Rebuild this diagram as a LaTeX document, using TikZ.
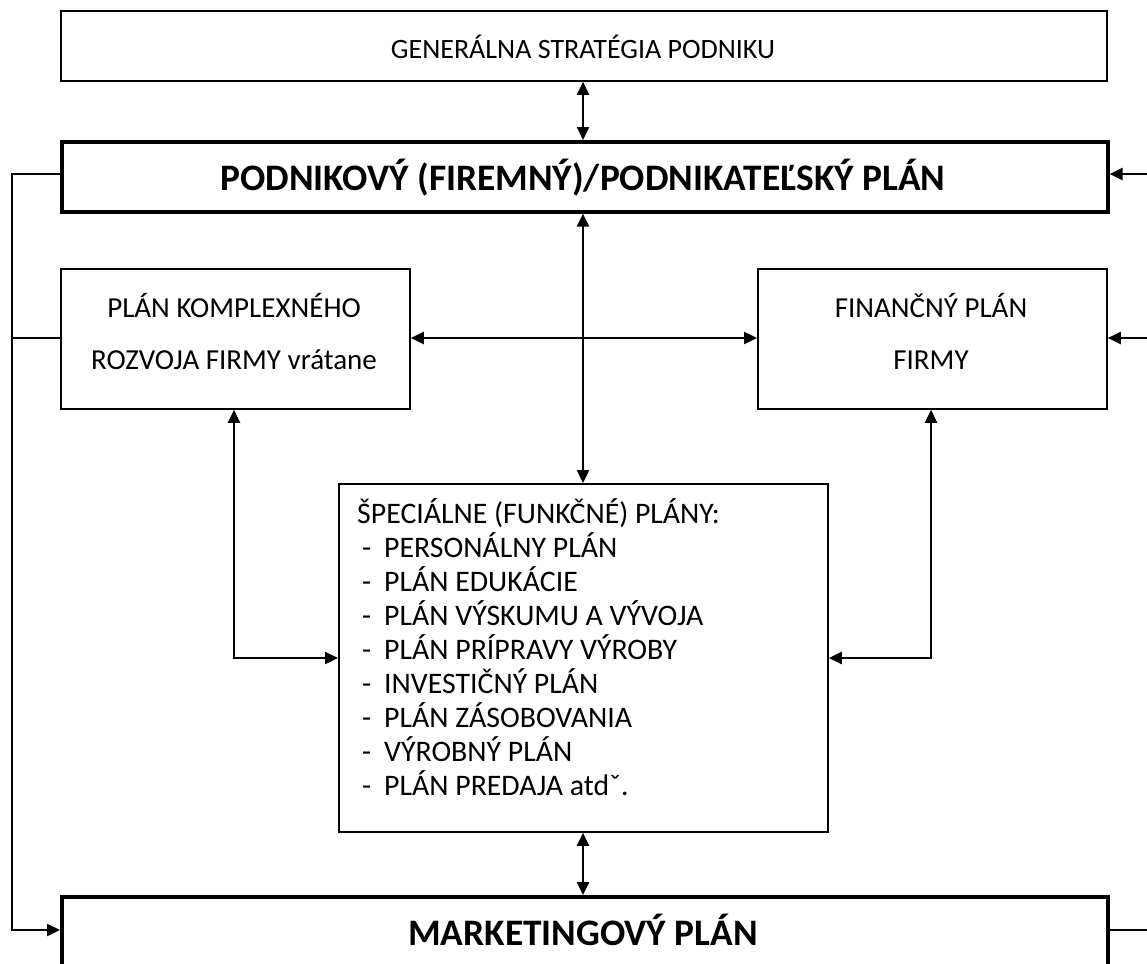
\documentclass[tikz,border=0pt]{standalone}
\usepackage{fontspec}
\setmainfont{Carlito}
\usetikzlibrary{arrows.meta}
\tikzset{
  thinbox/.style={draw, line width=1.8pt, inner sep=0pt, anchor=north west},
  thickbox/.style={draw, line width=3.6pt, inner sep=0pt, anchor=north west},
  conn/.style={line width=2.4pt, line cap=rect},
  tip/.style={-{Triangle[length=13pt,width=12pt]}},
  both/.style={{Triangle[length=13pt,width=12pt]}-{Triangle[length=13pt,width=12pt]}},
  txt/.style={font=\fontsize{29}{34}\selectfont, inner sep=0pt},
  ttxt/.style={font=\fontsize{28}{34}\selectfont, inner sep=0pt},
  ltxt/.style={font=\fontsize{29.8}{34}\selectfont, inner sep=0pt, anchor=base west},
  btxt/.style={font=\fontsize{37.4}{42}\selectfont\bfseries, inner sep=0pt},
}
\newcommand{\dashitem}{\makebox[27pt][l]{\hspace{5pt}-}}
\begin{document}
\begin{tikzpicture}[x=1pt,y=-1pt]
\useasboundingbox (0,0) rectangle (1147,963);
\clip (0,0) rectangle (1147,963);
\fill[white] (0,0) rectangle (1147,963);
% boxes
\node[thinbox, minimum width=1046pt, minimum height=70pt] (gen) at (60,10) {};
\node[ttxt] at (583,47) {GENERÁLNA STRATÉGIA PODNIKU};
\node[thickbox, minimum width=1046pt, minimum height=70pt] (pod) at (60,140) {};
\node[btxt] at (583,178) {PODNIKOVÝ (FIREMNÝ)/PODNIKATEĽSKÝ PLÁN};
\node[thinbox, minimum width=349pt, minimum height=140pt] (kom) at (60,268) {};
\node[txt] at (234,305) {PLÁN KOMPLEXNÉHO};
\node[txt] at (234,360) {ROZVOJA FIRMY vrátane};
\node[thinbox, minimum width=349pt, minimum height=140pt] (fin) at (757,268) {};
\node[txt] at (931,305) {FINANČNÝ PLÁN};
\node[txt] at (931,360) {FIRMY};
\node[thinbox, minimum width=489pt, minimum height=348pt] (spec) at (338,483) {};
\node[ltxt] (s0) at (357,523) {ŠPECIÁLNE (FUNKČNÉ) PLÁNY:};
\node[ltxt] (s1) at (357,557) {\dashitem PERSONÁLNY PLÁN};
\node[ltxt] (s2) at (357,591) {\dashitem PLÁN EDUKÁCIE};
\node[ltxt] (s3) at (357,625) {\dashitem PLÁN VÝSKUMU A VÝVOJA};
\node[ltxt] (s4) at (357,659) {\dashitem PLÁN PRÍPRAVY VÝROBY};
\node[ltxt] (s5) at (357,693) {\dashitem INVESTIČNÝ PLÁN};
\node[ltxt] (s6) at (357,727) {\dashitem PLÁN ZÁSOBOVANIA};
\node[ltxt] (s7) at (357,761) {\dashitem VÝROBNÝ PLÁN};
\node[ltxt] (s8) at (357,795) {\dashitem PLÁN PREDAJA atdˇ.};
\node[thickbox, minimum width=1046pt, minimum height=70pt] (mkt) at (60,895) {};
\node[btxt] at (583,930) {MARKETINGOVÝ PLÁN};
% coordinates
\coordinate (r1) at (1147,174);
\coordinate (r2) at (1147,338);
\coordinate (r3) at (1147,930);
\coordinate (l1) at (12,174);
\coordinate (l2) at (12,338);
\coordinate (l3) at (12,930);
\coordinate (a1) at (234,658);
\coordinate (b1) at (931,658);
% connectors
\draw[conn, both] (gen.south -| 583,0) -- (pod.north -| 583,0);
\draw[conn, both] (pod.south -| 583,0) -- (spec.north -| 583,0);
\draw[conn, both] (spec.south -| 583,0) -- (mkt.north -| 583,0);
\draw[conn, both] (kom.east |- 0,338) -- (fin.west |- 0,338);
\draw[conn, tip] (r1) -- (pod.east |- r1);
\draw[conn, tip] (r2) -- (fin.east |- r2);
\draw[conn] (mkt.east |- r3) -- (r3);
\draw[conn, tip] (pod.west |- l1) -- (l1) -- (l3) -- (mkt.west |- l3);
\draw[conn] (l2) -- (kom.west |- l2);
\draw[conn, tip] (a1) -- (kom.south -| a1);
\draw[conn, tip] (a1) -- (spec.west |- a1);
\draw[conn, tip] (b1) -- (fin.south -| b1);
\draw[conn, tip] (b1) -- (spec.east |- b1);
\end{tikzpicture}
\end{document}
